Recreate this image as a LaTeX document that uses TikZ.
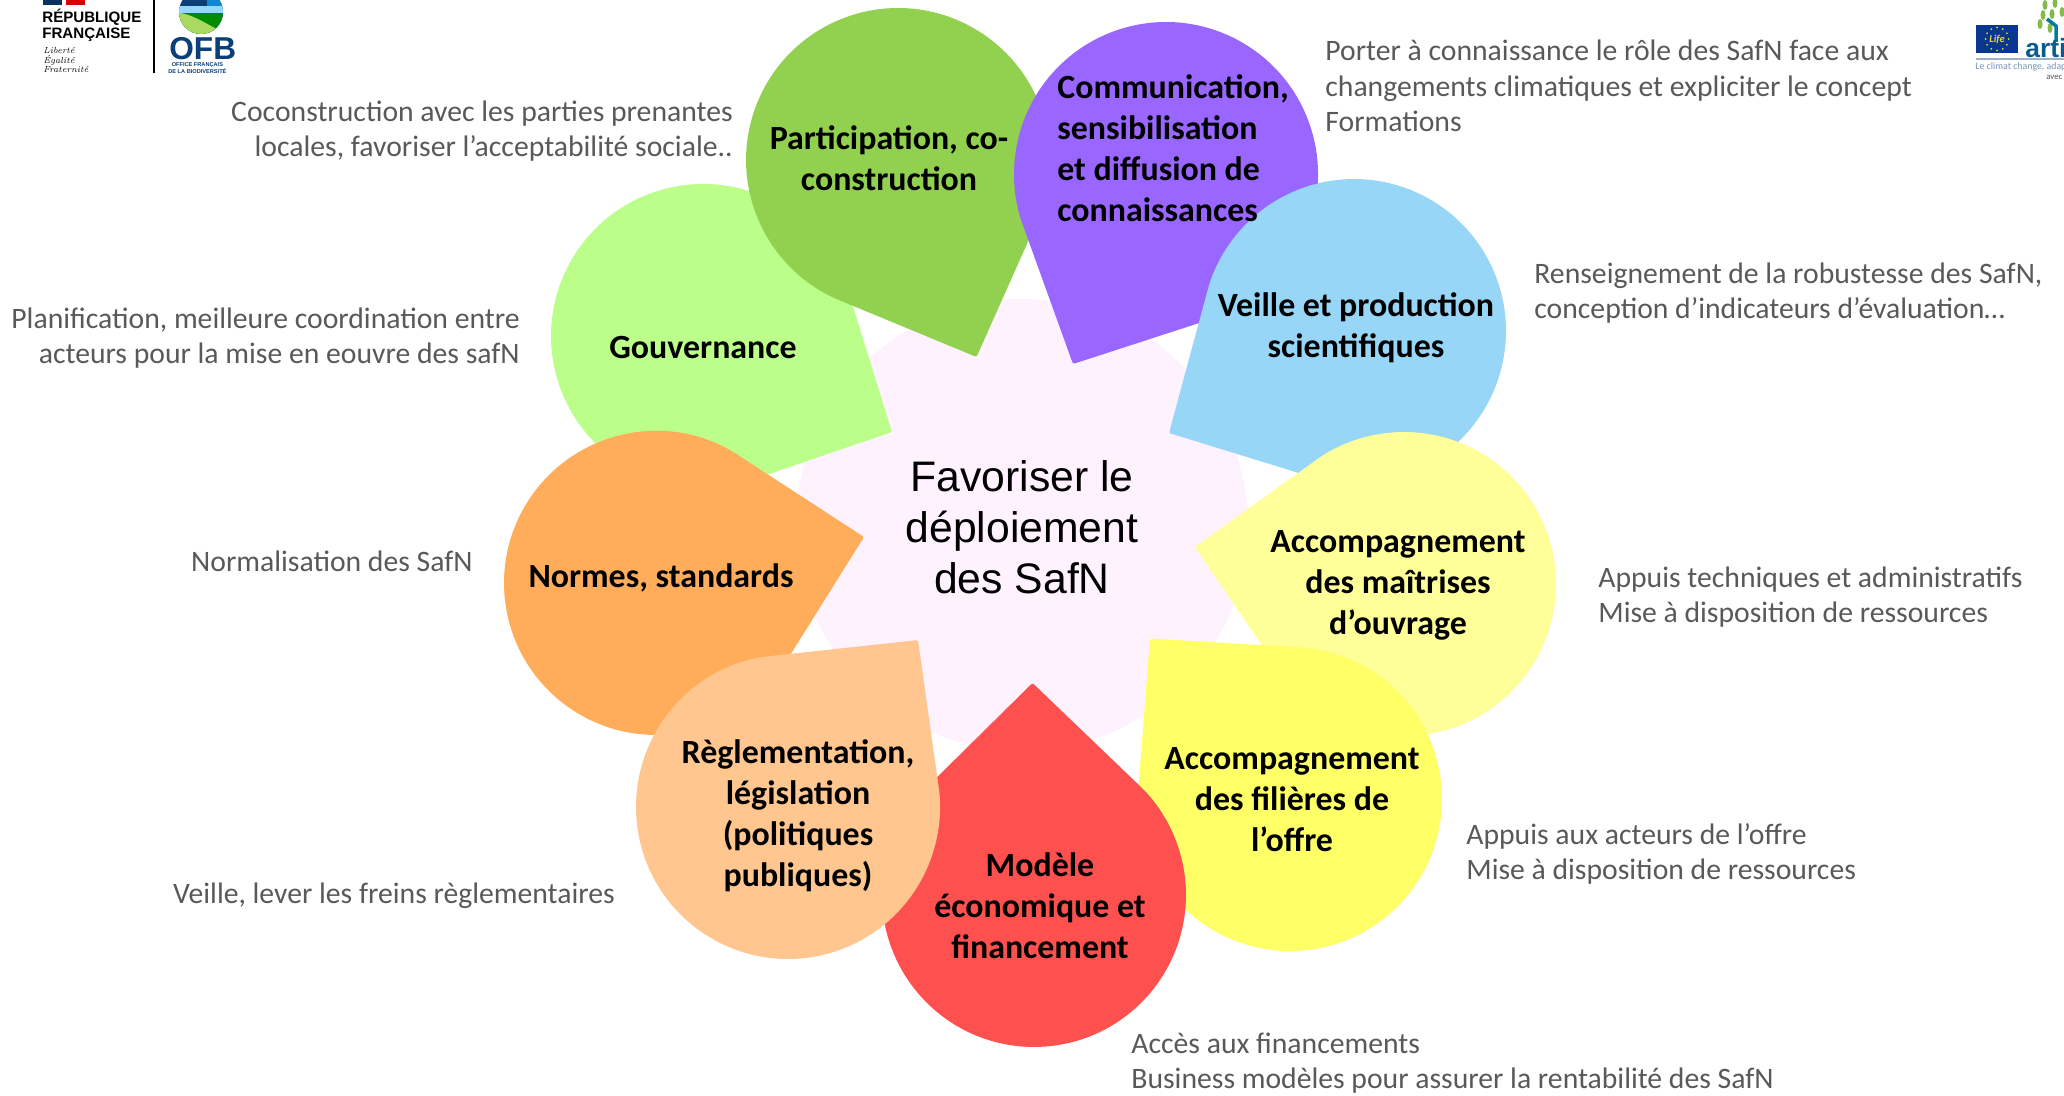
\documentclass[tikz,border=0pt]{standalone}
\usepackage{fontspec}
\setmainfont{Carlito}
\newfontfamily\arialfont{Liberation Sans}
\usetikzlibrary{calc}
\definecolor{gouvcol}{HTML}{BBFF8A}
\definecolor{normcol}{HTML}{FFAD5B}
\definecolor{partcol}{HTML}{92D050}
\definecolor{commcol}{HTML}{9966FF}
\definecolor{veilcol}{HTML}{98D6F7}
\definecolor{moacol}{HTML}{FFFF99}
\definecolor{filcol}{HTML}{FFFF66}
\definecolor{ecocol}{HTML}{FF5050}
\definecolor{reglcol}{HTML}{FFC78F}
\definecolor{coeurcol}{HTML}{FEF2FE}
\definecolor{notecol}{HTML}{595959}
\definecolor{ofbcol}{HTML}{0B3F7A}
\tikzset{
  petallabel/.style={font=\fontsize{19.3}{23.4}\selectfont\bfseries, align=center, inner sep=0pt, text=black},
  noteleft/.style={font=\fontsize{16.9}{20.2}\selectfont, align=right, anchor=east, inner sep=0pt, text=notecol},
  noteright/.style={font=\fontsize{16.9}{20.2}\selectfont, align=left, anchor=west, inner sep=0pt, text=notecol},
  logotext/.style={inner sep=0pt, anchor=west, align=left}
}
% colour, centre of the round part, tip
\newcommand{\petal}[3]{
  \fill[#1, rounded corners=1.2pt] let \p1=#2, \p2=#3,
    \n1={atan2(\y2-\y1,\x2-\x1)}, \n2={acos(3.04cm/veclen(\x2-\x1,\y2-\y1))} in
    (\p2) -- ($(\p1)+(\n1+\n2:3.04cm)$) arc[start angle=\n1+\n2, delta angle=360-2*\n2, radius=3.04cm] -- cycle;
}
\begin{document}
\begin{tikzpicture}[x=0.02cm, y=-0.02cm]
  \useasboundingbox (0,0) rectangle (2064,1095);
  \fill[white] (0,0) rectangle (2064,1095);

  % petals and heart
  \fill[coeurcol] (1022,525) circle (4.52cm);
  \petal{gouvcol}{(703,336)}{(892,432)}
  \petal{normcol}{(656,583)}{(864,537)}
  \petal{partcol}{(898,160)}{(976.5,357)}
  \petal{commcol}{(1166,174)}{(1073,364)}
  \petal{veilcol}{(1354,331)}{(1169,433)}
  \petal{moacol}{(1404,584)}{(1195,547)}
  \petal{filcol}{(1290,799)}{(1150,638.5)}
  \petal{ecocol}{(1034,895)}{(1032.5,683)}
  \petal{reglcol}{(788,807)}{(918,640)}

  \node[font=\arialfont\fontsize{24.3}{29}\selectfont, align=center, inner sep=0pt] (coeur) at (1022,527) {Favoriser le\\déploiement\\des SafN};

  \node[petallabel] (part) at (889,158) {Participation, co-\\construction};
  \node[petallabel, align=left, anchor=west] (comm) at (1057,148) {Communication,\\sensibilisation\\et diffusion de\\connaissances};
  \node[petallabel] (veil) at (1356,328) {Veille et production\\scientifiques};
  \node[petallabel] (moa) at (1398,585) {Accompagnement\\des maîtrises\\d’ouvrage};
  \node[petallabel] (fil) at (1292,800) {Accompagnement\\des filières de\\l’offre};
  \node[petallabel] (eco) at (1040,906) {Modèle\\économique et\\financement};
  \node[petallabel] (regl) at (798,816) {Règlementation,\\législation\\(politiques\\publiques)};
  \node[petallabel] (norm) at (661,578) {Normes, standards};
  \node[petallabel] (gouv) at (703,348) {Gouvernance};

  % remarks around the flower
  \node[noteleft] (notepart) at (733,131) {Coconstruction avec les parties prenantes\\locales, favoriser l’acceptabilité sociale..};
  \node[noteleft] (notegouv) at (520,338) {Planification, meilleure coordination entre\\acteurs pour la mise en eouvre des safN};
  \node[noteleft] (notenorm) at (473,561) {Normalisation des SafN};
  \node[noteleft] (noteregl) at (615,896) {Veille, lever les freins règlementaires};
  \node[noteright] (notecomm) at (1325,86) {Porter à connaissance le rôle des SafN face aux\\changements climatiques et expliciter le concept\\Formations};
  \node[noteright] (noteveil) at (1534,293) {Renseignement de la robustesse des SafN,\\conception d’indicateurs d’évaluation…};
  \node[noteright] (notemoa) at (1598,597) {Appuis techniques et administratifs\\Mise à disposition de ressources};
  \node[noteright] (notefil) at (1466,854) {Appuis aux acteurs de l’offre\\Mise à disposition de ressources};
  \node[noteright] (noteeco) at (1131,1063) {Accès aux financements\\Business modèles pour assurer la rentabilité des SafN};

  % logo left
  \fill[ofbcol!80!black] (43,0) rectangle (62,5);
  \fill[red!85!black] (66,0) rectangle (85,5);
  \node[logotext, font=\arialfont\fontsize{8.6}{9}\selectfont\bfseries] (rf) at (42,25) {RÉPUBLIQUE\\FRANÇAISE};
  \node[logotext, font=\fontfamily{lmr}\fontsize{5}{5.6}\selectfont\itshape] (devise) at (43,60) {Liberté\\Égalité\\Fraternité};
  \draw[line width=0.7pt] (154,0) -- (154,73);
  \begin{scope}
    \clip (201,12) circle (0.44cm);
    \fill[ofbcol] (170,-12) rectangle (230,40);
    \fill[cyan!70!blue] (207,-12) rectangle (230,40);
    \fill[veilcol] (170,6) rectangle (230,13);
    \fill[green!55!black] (170,13) rectangle (230,40);
    \fill[gouvcol!70!olive] (170,13) .. controls (190,10) and (205,25) .. (230,35) -- (230,40) -- (170,40) -- cycle;
  \end{scope}
  \node[logotext, font=\arialfont\fontsize{18}{18}\selectfont\bfseries, text=ofbcol] (ofb) at (169,49) {OFB};
  \node[logotext, font=\arialfont\fontsize{3.2}{3.6}\selectfont\bfseries, text=ofbcol, align=center] (ofbnom) at (168,68) {OFFICE FRANÇAIS\\DE LA BIODIVERSITÉ};

  % logo right
  \fill[ofbcol!85!blue] (1976,25) rectangle (2018,53);
  \foreach \a in {0,30,...,330}
    \fill[yellow!90!black] ($(1997,39)+(\a:0.23cm)$) circle (0.02cm);
  \node[inner sep=0pt, font=\fontsize{6}{6}\selectfont\itshape\bfseries, text=yellow!90!black] (life) at (1997,39) {Life};
  \foreach \lx/\ly in {2045/5,2055/3,2043/15,2052/14,2062/12,2040/24,2050/28}
    \fill[partcol!90!black] (\lx,\ly) ellipse (0.05cm and 0.1cm);
  \draw[ofbcol!70!cyan, line width=2pt] (2056,42) -- (2056,26) -- (2047,19);
  \node[logotext, font=\arialfont\fontsize{15}{15}\selectfont\bfseries, text=ofbcol!85!cyan] (artisan) at (2025,48) {arti};
  \draw[ofbcol!40!white, line width=0.6pt] (1976,59) -- (2064,59);
  \node[logotext, font=\fontsize{5.6}{6}\selectfont, text=ofbcol!55!white] (climat) at (1975,67) {Le climat change, adap};
  \node[logotext, font=\fontsize{5}{6}\selectfont, text=notecol] (avec) at (2046,77) {avec};
\end{tikzpicture}
\end{document}
